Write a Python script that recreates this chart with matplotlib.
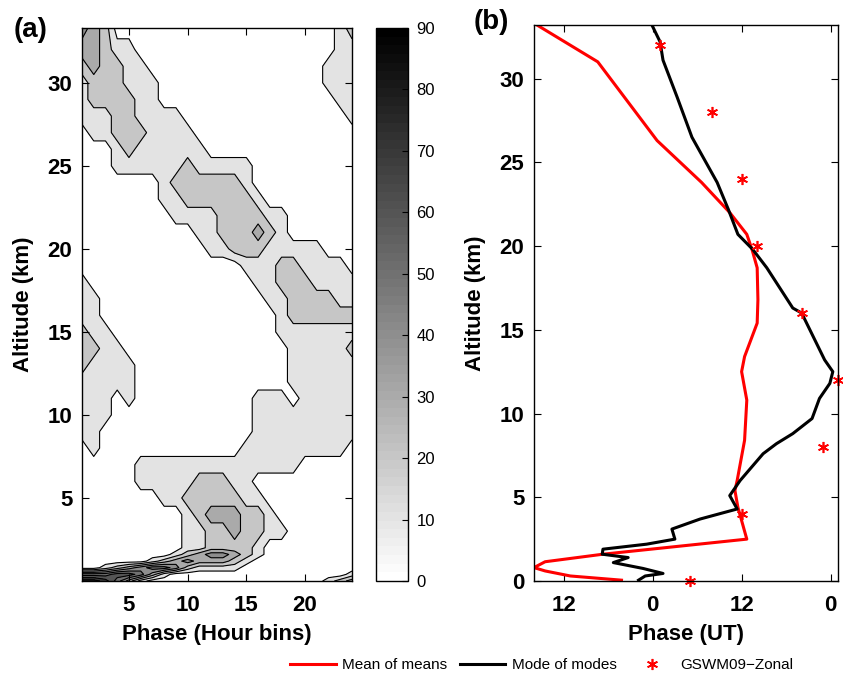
import numpy as np
import matplotlib
matplotlib.use("Agg")
import matplotlib.pyplot as plt
from matplotlib.colors import ListedColormap, Normalize
from matplotlib.lines import Line2D
import matplotlib.cm as cm

plt.rcParams['font.family'] = ['Liberation Sans', 'DejaVu Sans']

# ---- panel (a): phase histogram per altitude ----
# one string per altitude row, one digit per hour bin; digit d means about 10*d+5 %
phase_bins = np.arange(1, 25)
alt_rows = [0.0, 0.4, 0.8, 1.2, 1.6, 2.0] + list(range(3, 33)) + [33.3]
class_rows = [
    "887531000000000000000123",  # 0.0
    "555665310000000000000001",  # 0.4
    "001234554211110000000000",  # 0.8
    "000000123433321000000000",  # 1.2
    "000000001234432100000000",  # 1.6
    "000000000112222100000000",  # 2
    "000000000112232211000000",  # 3
    "000000000123332210000000",  # 4
    "000000011222221100000000",  # 5
    "000001111122211000000000",  # 6
    "000001111111111111100000",  # 7
    "010000000000001111111110",  # 8
    "110000000000000111111111",  # 9
    "111000000000000111111111",  # 10
    "111010000000000111011111",  # 11
    "111110000000000000111111",  # 12
    "211110000000000000111111",  # 13
    "221100000000000000111112",  # 14
    "211000000000000001111111",  # 15
    "110000000000000001222222",  # 16
    "110000000000000011222211",  # 17
    "100000000000000112221111",  # 18
    "000000000000001112211110",  # 19
    "000000000001122211111000",  # 20
    "000000000011222321000000",  # 21
    "000000001111222211000000",  # 22
    "000000011222222100000000",  # 23
    "000000012222221000000000",  # 24
    "000111111211111000000000",  # 25
    "000121111110000000000000",  # 26
    "011222111100000000000000",  # 27
    "111221111000000000000001",  # 28
    "122221100000000000000011",  # 29
    "122211100000000000000111",  # 30
    "232211000000000000000111",  # 31
    "332110000000000000000011",  # 32
    "432000000000000000000012",  # 33.3
]
levels = np.arange(0, 100, 10)

# ---- panel (b): phase profiles (hours, unwrapped so 12/24/36/48 = 12/0/12/0) ----
alt_mean = [0.05, 0.3, 0.6, 0.8, 1.15, 1.6, 2.5, 4.4, 5.4, 6.0, 8.4, 10.8, 12.5, 13.4,
            15.4, 16.8, 18.7, 19.8, 20.7, 22.0, 23.8, 26.3, 31.0, 33.2]
phase_mean = [19.8, 12.9, 9.5, 8.0, 9.5, 17.3, 36.7, 35.5, 35.1, 35.4, 36.4, 36.7, 36.0, 36.4,
              38.1, 38.2, 38.1, 37.4, 36.7, 34.4, 30.6, 24.6, 16.6, 8.4]
alt_mode = [0.05, 0.3, 0.45, 0.75, 1.1, 1.4, 1.6, 1.9, 2.2, 2.5, 3.1, 3.7, 4.3, 5.1, 6.0,
            7.6, 8.2, 8.8, 9.7, 10.9, 11.8, 12.5, 13.2, 16.0, 16.3, 18.7, 19.8, 20.7,
            22.2, 23.8, 26.5, 28.9, 31.1, 32.2, 33.2]
phase_mode = [22.1, 23.0, 25.4, 22.7, 18.7, 20.7, 17.2, 17.3, 23.2, 27.0, 26.6, 30.4, 35.4,
              34.4, 35.8, 38.9, 40.7, 42.9, 45.5, 46.5, 47.9, 48.3, 47.2, 44.1, 42.9, 39.4,
              37.5, 35.5, 34.2, 32.7, 29.3, 27.3, 25.4, 25.0, 23.9]
alt_gswm = [0, 4, 8, 12, 16, 20, 24, 28, 32]
phase_gswm = [29.0, 36.0, 47.0, 49.0, 44.1, 38.1, 36.0, 32.0, 25.0]
phase_ticks = [12, 24, 36, 48]
phase_ticklabels = ["12", "0", "12", "0"]

W, H = 843, 676
fig = plt.figure(figsize=(W / 100, H / 100), dpi=100)

def box(l, t, r, b):
    return [l / W, 1 - b / H, (r - l) / W, (b - t) / H]

# gray colormap like matlab flipud(gray(64))
ncol = 64
grays = np.linspace(1, 0, ncol)
cmap = ListedColormap(np.column_stack([grays, grays, grays]))
band_colors = []
for lv in levels[:-1]:
    idx = min(int(lv / 90 * ncol), ncol - 1)
    band_colors.append((grays[idx],) * 3)

Z = np.array([[10 * int(c) + 5 for c in row] for row in class_rows], dtype=float)
X, Y = np.meshgrid(phase_bins, alt_rows)

ax1 = fig.add_axes(box(82, 28, 352, 581))
ax1.contourf(X, Y, Z, levels=levels, colors=band_colors)
ax1.contour(X, Y, Z, levels=levels, colors='k', linewidths=0.8)
ax1.set_xlim(1, 24)
ax1.set_ylim(0, 33.3)
ax1.set_xticks([5, 10, 15, 20])
ax1.set_yticks([5, 10, 15, 20, 25, 30])
ax1.set_xlabel("Phase (Hour bins)", fontsize=16, fontweight='bold', labelpad=6)
ax1.set_ylabel("Altitude (km)", fontsize=16, fontweight='bold', labelpad=10)
fig.text(14 / W, 1 - 30 / H, "(a)", fontsize=20, fontweight='bold', va='center', ha='left')

cax = fig.add_axes(box(376, 28, 408, 581))
sm = cm.ScalarMappable(norm=Normalize(0, 90), cmap=cmap)
cb = fig.colorbar(sm, cax=cax, ticks=np.arange(0, 100, 10))
cb.outline.set_linewidth(1.0)
cax.tick_params(direction='in', length=4, width=0.8, labelsize=12, pad=6)

ax2 = fig.add_axes(box(534, 25, 838, 581))
ax2.plot(phase_mean, alt_mean, color='red', lw=2.2, solid_joinstyle='round')
ax2.plot(phase_mode, alt_mode, color='black', lw=2.2, solid_joinstyle='round')
ax2.plot(phase_gswm, alt_gswm, linestyle='none', marker=(6, 2, 0), color='red',
         markersize=8, markeredgewidth=1.2, clip_on=False)
ax2.set_xlim(8, 49)
ax2.set_ylim(0, 33.2)
ax2.set_xticks(phase_ticks)
ax2.set_xticklabels(phase_ticklabels)
ax2.set_yticks([0, 5, 10, 15, 20, 25, 30])
ax2.set_xlabel("Phase (UT)", fontsize=16, fontweight='bold', labelpad=6)
ax2.set_ylabel("Altitude (km)", fontsize=16, fontweight='bold', labelpad=10)
fig.text(474 / W, 1 - 22 / H, "(b)", fontsize=20, fontweight='bold', va='center', ha='left')

for ax in (ax1, ax2):
    ax.tick_params(axis='both', direction='in', top=True, right=True, length=5, width=0.8,
                   labelsize=16)
    ax.tick_params(axis='x', pad=10)
    ax.tick_params(axis='y', pad=7)
    for lab in ax.get_xticklabels() + ax.get_yticklabels():
        lab.set_fontweight('bold')
    for sp in ax.spines.values():
        sp.set_linewidth(1.0)

handles = [Line2D([], [], color='red', lw=2.2),
           Line2D([], [], color='black', lw=2.2),
           Line2D([], [], linestyle='none', marker=(6, 2, 0), color='red',
                  markersize=8, markeredgewidth=1.2)]
fig.legend(handles, ["Mean of means", "Mode of modes", "GSWM09\u2212Zonal"],
           loc='center', bbox_to_anchor=(542 / W, 1 - 665 / H), ncol=3, frameon=False,
           fontsize=11, handlelength=3, handletextpad=0.4, columnspacing=0.8)

fig.savefig("out.png", dpi=100)
